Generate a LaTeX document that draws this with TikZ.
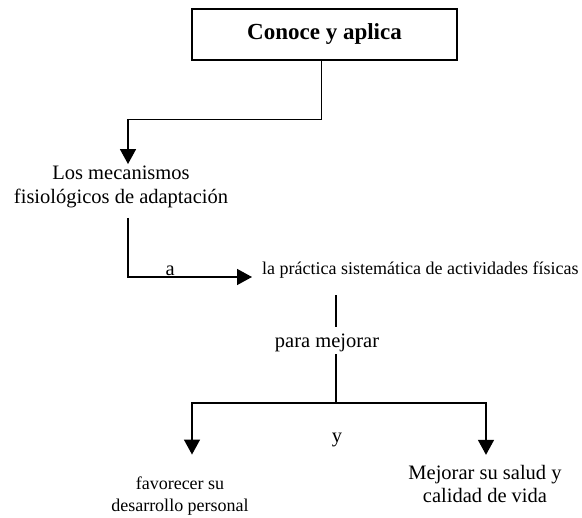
\documentclass[tikz,border=0pt]{standalone}
\usepackage{fontspec}
\setmainfont{Liberation Serif}
\usetikzlibrary{arrows.meta}

\tikzset{
  flecha/.style={-{Triangle[length=15pt,width=16pt]}, line width=1.5pt},
  linea/.style={line width=1.5pt},
  caja/.style={draw, line width=1.5pt, minimum width=265pt, minimum height=51pt,
    font=\fontsize{23}{26}\selectfont\bfseries},
  texto/.style={align=center, inner sep=2pt, font=\fontsize{20.5}{23.5}\selectfont},
  chico/.style={align=center, inner sep=2pt, font=\fontsize{18}{22}\selectfont},
}

\begin{document}
\begin{tikzpicture}[x=1pt,y=-1pt]
  \useasboundingbox (0,0) rectangle (582,518);

  \node[caja] (conoce) at (324.5,34.5) {Conoce y aplica};
  \node[texto] (meca) at (121,187) {Los mecanismos\\fisiológicos de adaptación};
  \node[chico, anchor=base west] (practica) at (260,275) {la práctica sistemática de actividades físicas};
  \node[texto] (para) at (327,343) {para mejorar};
  \node[texto] (y) at (337,440) {y};
  \node[chico] (favorecer) at (180,496) {favorecer su\\desarrollo personal};
  \node[texto] (mejorar) at (485,484) {Mejorar su salud y\\calidad de vida};
  \coordinate (split) at (336,403);

  \draw[flecha] ([xshift=-3pt]conoce.south) -- ++(0,59) -| ([xshift=7pt]meca.north);
  \draw[flecha] ([shift={(7pt,-8pt)}]meca.south) |- ([shift={(-8pt,-2pt)}]practica.base west)
    node[texto, pos=0.67, above, inner sep=1pt] (a) {a};
  \draw[linea] ([shift={(9pt,5pt)}]para.north) -- ++(0,-32);
  \draw[linea] ([xshift=9pt]para.south) -- (split);
  \draw[flecha, shorten >=20pt] (split) -| ([xshift=12pt]favorecer.north);
  \draw[flecha, shorten >=8pt] (split) -| ([xshift=1pt]mejorar.north);
\end{tikzpicture}
\end{document}
